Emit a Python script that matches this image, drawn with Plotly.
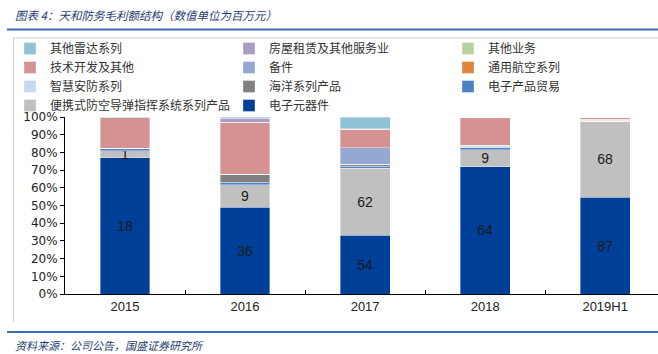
import plotly.graph_objects as go

categories = ["2015", "2016", "2017", "2018", "2019H1"]

# stacked bottom -> top, values in 百万元
s_dianziyuanqijian = [18, 36, 54, 64, 87]          # 电子元器件
s_bianxieshi = [0.9, 9.3, 62, 8.6, 68]               # 便携式防空导弹指挥系统系列产品
s_dianzimaoyi = [0.35, 0.95, 1.8, 1.0, 0]            # 电子产品贸易
s_haiyang = [0, 3.3, 1.8, 0, 1.1]                    # 海洋系列产品
s_zhihui = [0, 0, 0, 0.9, 0]                         # 智慧安防系列
s_tonghang = [0, 0, 0, 0.3, 0.8]                     # 通用航空系列
s_beijian = [0, 0, 15.2, 0, 0]                       # 备件
s_jishu = [4.0, 21.5, 17.0, 14.0, 2.0]               # 技术开发及其他
s_qitayewu = [0, 0, 0, 0, 0]                         # 其他业务
s_fangwu = [0, 1.7, 0.6, 0, 0]                       # 房屋租赁及其他服务业
s_leida = [0.1, 0.5, 10.9, 0.2, 0]                   # 其他雷达系列

series = [
    ("电子元器件", s_dianziyuanqijian, "#003F98", True),
    ("便携式防空导弹指挥系统系列产品", s_bianxieshi, "#C0C0C0", True),
    ("电子产品贸易", s_dianzimaoyi, "#4F81C7", False),
    ("海洋系列产品", s_haiyang, "#808080", False),
    ("智慧安防系列", s_zhihui, "#C6D9F1", False),
    ("通用航空系列", s_tonghang, "#E0843E", False),
    ("备件", s_beijian, "#95A8D4", False),
    ("技术开发及其他", s_jishu, "#D49292", False),
    ("其他业务", s_qitayewu, "#B8D3A0", False),
    ("房屋租赁及其他服务业", s_fangwu, "#A99CC2", False),
    ("其他雷达系列", s_leida, "#8FC3D4", False),
]

fig = go.Figure()
for name, vals, color, labelled in series:
    fig.add_trace(go.Bar(
        x=categories, y=vals, name=name,
        marker=dict(color=color, line=dict(color="rgba(255,255,255,0.6)", width=0.6)),
        width=0.415,
        text=[f"{v:.0f}" for v in vals] if labelled else None,
        textposition="inside" if labelled else "none",
        insidetextanchor="middle",
        textangle=0,
        textfont=dict(family="Liberation Sans Narrow, Arial Narrow, sans-serif", size=14, color="#1a1a1a"),
        hoverinfo="name+y",
    ))

L, T, W, H = 65, 117, 593, 177
def px2x(px):
    return (px - L) / W
def py2y(py):
    return (T + H - py) / H

shapes = [
    dict(type="line", xref="paper", yref="paper", x0=px2x(7), x1=px2x(658), y0=py2y(29.5), y1=py2y(29.5),
         line=dict(color="#3E6DB5", width=2)),
    dict(type="line", xref="paper", yref="paper", x0=px2x(13), x1=px2x(658), y0=py2y(38), y1=py2y(38),
         line=dict(color="#D0D0D0", width=1)),
    dict(type="line", xref="paper", yref="paper", x0=px2x(13.5), x1=px2x(13.5), y0=py2y(38), y1=py2y(322),
         line=dict(color="#D0D0D0", width=1)),
    dict(type="line", xref="paper", yref="paper", x0=px2x(7), x1=px2x(658), y0=py2y(332), y1=py2y(332),
         line=dict(color="#3E6DB5", width=2)),
]

annotations = [
    dict(text="图表 4：天和防务毛利额结构（数值单位为百万元）", xref="paper", yref="paper",
         x=px2x(13), y=py2y(15), xanchor="left", yanchor="middle", showarrow=False,
         font=dict(family="Noto Sans CJK SC", size=11.5, color="#1F3D73", style="italic")),
    dict(text="资料来源：公司公告，国盛证券研究所", xref="paper", yref="paper",
         x=px2x(13), y=py2y(345), xanchor="left", yanchor="middle", showarrow=False,
         font=dict(family="Noto Sans CJK SC", size=11, color="#1F3D73", style="italic")),
]

fig.update_layout(
    width=658, height=354,
    margin=dict(l=L, r=0, t=T, b=354 - T - H, autoexpand=False),
    barmode="stack", barnorm="percent",
    paper_bgcolor="white", plot_bgcolor="white",
    showlegend=True,
    legend=dict(
        orientation="h", traceorder="reversed",
        xref="paper", yref="paper",
        x=px2x(10), y=py2y(34), xanchor="left", yanchor="top",
        entrywidth=174, entrywidthmode="pixels",
        font=dict(family="Noto Sans CJK SC", size=12, color="#333333"),
        itemwidth=30, bgcolor="rgba(0,0,0,0)",
    ),
    uniformtext=dict(mode="show", minsize=14),
    shapes=shapes, annotations=annotations,
    xaxis=dict(
        range=[-0.5, 4.44], showgrid=False, showline=True, linecolor="#000000", linewidth=1,
        ticks="inside", ticklen=4, tickcolor="#000000", tickson="boundaries",
        tickfont=dict(family="Liberation Sans Narrow, Arial Narrow, sans-serif", size=13, color="#222222"),
        fixedrange=True,
    ),
    yaxis=dict(
        range=[0, 100], dtick=10, ticksuffix="%", showgrid=False, showline=True,
        linecolor="#000000", linewidth=1, ticks="outside", ticklen=4, tickcolor="#000000",
        tickfont=dict(family="DejaVu Sans", size=12, color="#222222"), zeroline=False,
        fixedrange=True,
    ),
    bargap=0.58,
)

fig.write_html("out.html")
